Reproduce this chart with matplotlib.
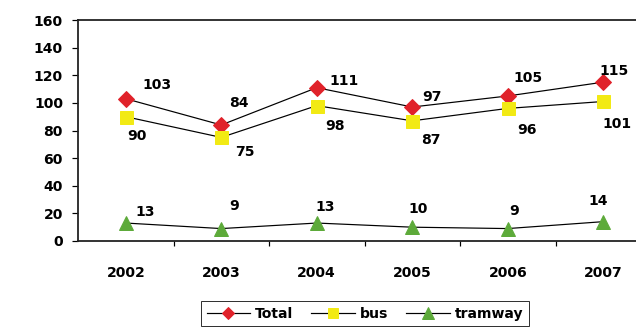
import matplotlib.pyplot as plt
import numpy as np

# data
years = ["2002", "2003", "2004", "2005", "2006", "2007"]
total = [103, 84, 111, 97, 105, 115]
bus = [90, 75, 98, 87, 96, 101]
tramway = [13, 9, 13, 10, 9, 14]

# label offsets (pixels, dx right / dy up) to mimic the original placement
total_off = [(17, 14), (8, 22), (13, 7), (10, 10), (6, 18), (-4, 11)]
bus_off = [(2, -19), (14, -15), (8, -20), (9, -19), (9, -22), (-1, -23)]
tram_off = [(10, 11), (8, 23), (-1, 16), (-4, 18), (1, 18), (-15, 21)]

plt.rcParams["font.family"] = ["DejaVu Sans"]
plt.rcParams["font.weight"] = "bold"
FS = 14

# dpi 72 so that points == pixels
fig = plt.figure(figsize=(636 / 72, 331 / 72), dpi=72)
ax = fig.add_axes([78 / 636, 90 / 331, 573 / 636, 221 / 331])

x = np.arange(len(years))
ax.plot(x, total, color="black", lw=1.2, marker="D", ms=11, mfc="#e0222a", mec="#e0222a", label="Total", zorder=3)
ax.plot(x, bus, color="black", lw=1.2, marker="s", ms=13, mfc="#f2ea14", mec="#f2ea14", label="bus", zorder=3)
ax.plot(x, tramway, color="black", lw=1.2, marker="^", ms=14, mfc="#5daa3a", mec="#5daa3a", label="tramway", zorder=3)

# data labels
for vals, offs in ((total, total_off), (bus, bus_off), (tramway, tram_off)):
    for i, v in enumerate(vals):
        ax.annotate(str(v), (x[i], v), xytext=offs[i], textcoords="offset points",
                    fontsize=FS, fontweight="bold", ha="left", va="center", zorder=4)

ax.set_xlim(-0.5, len(years) - 0.5)
ax.set_ylim(0, 160)
ax.set_yticks(range(0, 161, 20))
ax.tick_params(axis="y", direction="out", length=6, width=1.2, pad=9, labelsize=FS)

# tick marks between categories, labels at centres
ax.set_xticks(x[:-1] + 0.5)
ax.set_xticklabels([])
ax.tick_params(axis="x", which="major", direction="out", length=5, width=1.2)
ax.set_xticks(x, minor=True)
ax.set_xticklabels(years, minor=True, fontsize=FS, fontweight="bold")
ax.tick_params(axis="x", which="minor", length=0, pad=25)

for s in ax.spines.values():
    s.set_linewidth(1.8)
    s.set_color("#222222")
ax.spines["right"].set_visible(False)

fig.legend(loc="upper center", bbox_to_anchor=(365 / 636, 1 - 301 / 331), ncol=3,
           frameon=True, fancybox=False, edgecolor="black", fontsize=FS,
           handlelength=3.1, columnspacing=1.3, handletextpad=0.35, borderpad=0.4,
           borderaxespad=0, markerscale=0.8)

fig.savefig("out.png", dpi=72)
